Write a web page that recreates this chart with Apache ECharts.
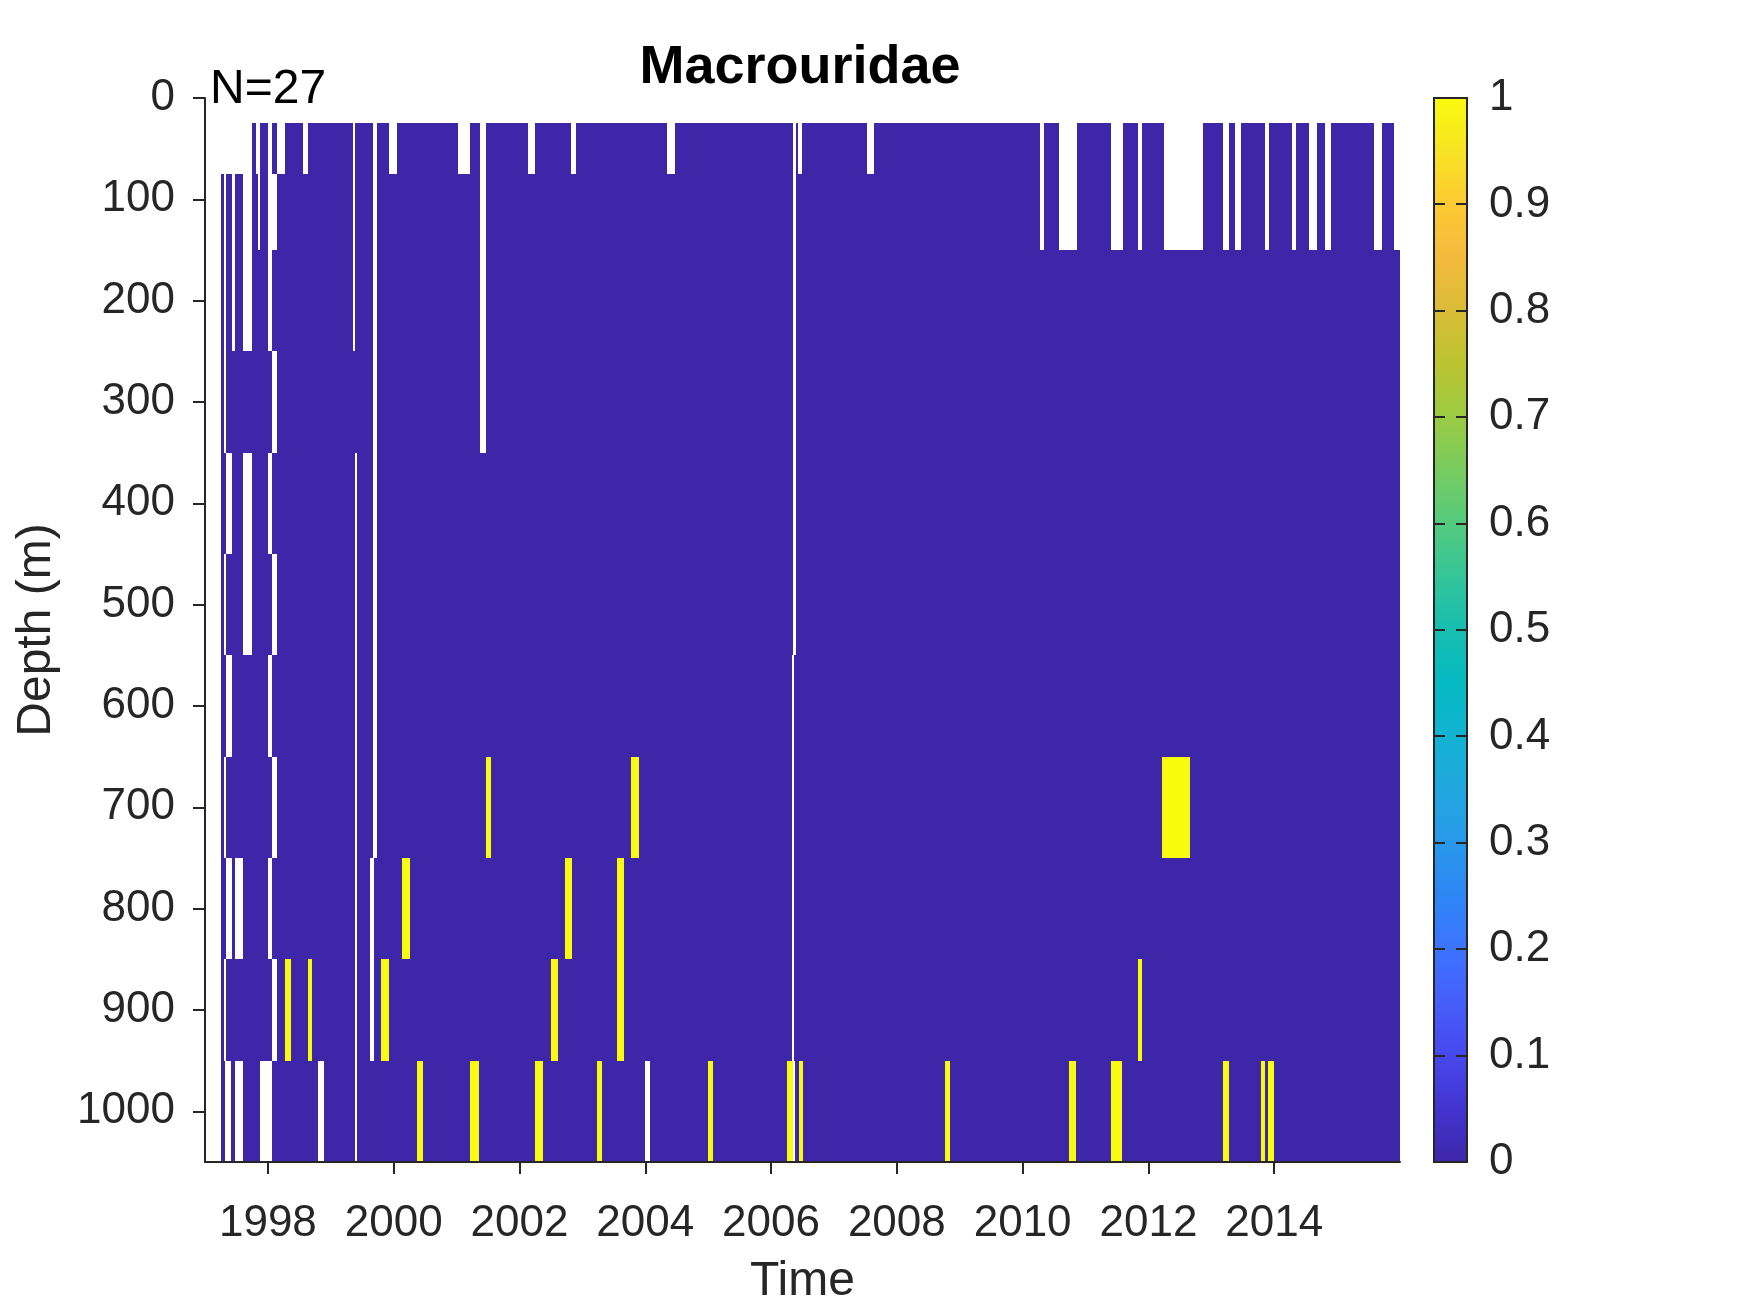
<!DOCTYPE html>
<html>
<head>
<meta charset="utf-8">
<script src="https://cdn.jsdelivr.net/npm/echarts@6/dist/echarts.min.js"></script>
<style>
  html, body { margin: 0; padding: 0; background: #ffffff; }
  #chart { width: 1750px; height: 1313px; }
</style>
</head>
<body>
<div id="chart"></div>
<script>
// ---------------- data ----------------
// depth bin edges (m) for the 11 depth rows
const depthEdges = [25, 75, 150, 250, 350, 450, 550, 650, 750, 850, 950, 1050];

// first / last sampled time for each depth row (decimal years)
const rowStart = [1997.745, 1997.25, 1997.25, 1997.25, 1997.25, 1997.25, 1997.25, 1997.25, 1997.25, 1997.25, 1997.25];
const rowEnd   = [2016.0, 2016.0, 2016.0, 2016.0, 2016.0, 2016.0, 2016.0, 2016.0, 2016.0, 2016.0, 2016.0];

// periods with no data (NaN, drawn white) for each depth row
const gapsRow0 = [[1997.815,1997.875],[1998.0,1998.065],[1998.145,1998.27],[1998.56,1998.63],[1999.36,1999.385],
  [1999.67,1999.74],[1999.93,2000.05],[2001.03,2001.21],[2001.37,2001.46],[2002.14,2002.25],[2002.82,2002.9],
  [2004.34,2004.48],[2006.35,2006.39],[2006.43,2006.49],[2007.52,2007.63],
  [2010.27,2010.34],[2010.58,2010.86],[2011.40,2011.59],[2011.84,2011.90],[2012.24,2012.87],[2013.19,2013.28],
  [2013.37,2013.47],[2013.86,2013.91],[2014.28,2014.35],[2014.56,2014.68],[2014.80,2014.90],[2015.58,2015.71],[2015.90,2016.0]];
const gapsRow1 = [[1997.30,1997.34],[1997.43,1997.47],[1997.60,1997.745],[1997.84,1997.875],[1998.0,1998.145],
  [1999.36,1999.385],[1999.67,1999.74],[2001.37,2001.46],[2006.35,2006.39],
  [2010.27,2010.34],[2010.58,2010.86],[2011.40,2011.59],[2011.84,2011.90],[2012.24,2012.87],[2013.19,2013.28],
  [2013.37,2013.47],[2013.86,2013.91],[2014.28,2014.35],[2014.56,2014.68],[2014.80,2014.90],[2015.58,2015.71],[2015.90,2016.0]];
const gapsRow2 = [[1997.30,1997.34],[1997.43,1997.47],[1997.60,1997.745],[1998.0,1998.065],[1999.36,1999.385],
  [1999.67,1999.74],[2001.37,2001.46],[2006.35,2006.39]];
const gapsRow3 = [[1997.30,1997.34],[1998.065,1998.145],[1999.67,1999.74],[2001.37,2001.46],[2006.35,2006.39]];
const gapsRow4 = [[1997.34,1997.43],[1997.60,1997.745],[1998.0,1998.065],[1999.385,1999.42],[1999.67,1999.74],[2006.35,2006.39]];
const gapsRow5 = [[1997.30,1997.34],[1997.60,1997.745],[1998.065,1998.145],[1999.385,1999.42],[1999.67,1999.74],[2006.35,2006.39]];
const gapsRow6 = [[1997.34,1997.43],[1998.0,1998.065],[1999.385,1999.42],[1999.67,1999.74],[2006.34,2006.37]];
const gapsRow7 = [[1997.30,1997.34],[1998.065,1998.145],[1999.385,1999.42],[1999.67,1999.74],[2006.34,2006.37]];
const gapsRow8 = [[1997.34,1997.43],[1997.47,1997.60],[1998.0,1998.065],[1999.385,1999.42],[1999.63,1999.68],[2006.34,2006.37]];
const gapsRow9 = [[1997.30,1997.34],[1998.065,1998.145],[1999.385,1999.42],[1999.63,1999.68],[2006.34,2006.37]];
const gapsRow10 = [[1997.32,1997.42],[1997.47,1997.60],[1997.875,1998.065],[1998.80,1998.89],[1999.385,1999.42],
  [2004.00,2004.08],[2006.35,2006.38]];
const gaps = [gapsRow0, gapsRow1, gapsRow2, gapsRow3, gapsRow4, gapsRow5, gapsRow6, gapsRow7, gapsRow8, gapsRow9, gapsRow10];

// periods with value 1 (presence); everything else sampled is 0
const hitsRow7 = [[2001.46,2001.54],[2003.78,2003.90],[2012.22,2012.66]];
const hitsRow8 = [[2000.14,2000.26],[2002.73,2002.84],[2003.55,2003.66]];
const hitsRow9 = [[1998.27,1998.37],[1998.64,1998.70],[1999.80,1999.93],[2002.50,2002.61],[2003.55,2003.66],[2011.83,2011.89]];
const hitsRow10 = [[2000.37,2000.47],[2001.21,2001.35],[2002.25,2002.37],[2003.24,2003.32],[2005.00,2005.08],
  [2006.25,2006.35],[2006.45,2006.50],[2008.76,2008.84],[2010.73,2010.85],[2011.40,2011.58],[2013.18,2013.28],
  [2013.79,2013.86],[2013.90,2014.00]];
const hits = [[], [], [], [], [], [], [], hitsRow7, hitsRow8, hitsRow9, hitsRow10];

// axis ticks
const xTicks = [1998, 2000, 2002, 2004, 2006, 2008, 2010, 2012, 2014];
const yTicks = [0, 100, 200, 300, 400, 500, 600, 700, 800, 900, 1000];
const cbTicks = [0, 0.1, 0.2, 0.3, 0.4, 0.5, 0.6, 0.7, 0.8, 0.9, 1];

// parula colormap stops
const parulaStops = [
  [0.00, '#3e26a8'], [0.05, '#4334d0'], [0.10, '#4748ed'], [0.15, '#465efb'], [0.20, '#3d73fe'],
  [0.25, '#2e86f5'], [0.30, '#2898e9'], [0.35, '#21a7df'], [0.40, '#12b3d2'], [0.45, '#05bac2'],
  [0.50, '#17bdb0'], [0.55, '#34c599'], [0.60, '#54ca7d'], [0.65, '#78cc60'], [0.70, '#9bcb43'],
  [0.75, '#bbc430'], [0.80, '#dabc37'], [0.85, '#f4ba3e'], [0.90, '#fdca32'], [0.95, '#f7e323'],
  [1.00, '#f9fb0e']
];

// ---------------- build cells ----------------
function buildCells() {
  const cells = [];
  for (let r = 0; r < depthEdges.length - 1; r++) {
    const pts = new Set([rowStart[r], rowEnd[r]]);
    gaps[r].forEach(g => { pts.add(g[0]); pts.add(g[1]); });
    hits[r].forEach(h => { pts.add(h[0]); pts.add(h[1]); });
    const arr = Array.from(pts).filter(p => p >= rowStart[r] && p <= rowEnd[r]).sort((a, b) => a - b);
    let cur = null;
    for (let i = 0; i < arr.length - 1; i++) {
      const a = arr[i], c = arr[i + 1], m = (a + c) / 2;
      if (gaps[r].some(g => m > g[0] && m < g[1])) { cur = null; continue; }
      const v = hits[r].some(h => m > h[0] && m < h[1]) ? 1 : 0;
      if (cur && cur[4] === v && cur[1] === a) { cur[1] = c; }
      else { cur = [a, c, depthEdges[r], depthEdges[r + 1], v]; cells.push(cur); }
    }
  }
  return cells;
}
const cells = buildCells();

// ---------------- chart ----------------
const FONT = '"Liberation Sans", Arial, Helvetica, sans-serif';
const AX = '#262626';
const chart = echarts.init(document.getElementById('chart'), null, { renderer: 'canvas' });

chart.setOption({
  animation: false,
  backgroundColor: '#ffffff',
  title: {
    text: 'Macrouridae',
    left: 795, top: 36, textAlign: 'center',
    textStyle: { fontSize: 54, fontWeight: 'bold', color: '#000000', fontFamily: FONT }
  },
  graphic: [{
    type: 'text', left: 210, top: 66,
    style: { text: 'N=27', fontSize: 48, fill: '#000000', fontFamily: FONT }
  }],
  visualMap: {
    show: false, type: 'continuous', min: 0, max: 1, dimension: 4, seriesIndex: 0,
    inRange: { color: parulaStops.map(s => s[1]) }
  },
  grid: [
    { left: 205, top: 98, width: 1195, height: 1064, containLabel: false },
    { left: 1434, top: 98, width: 33, height: 1064, show: false, containLabel: false }
  ],
  xAxis: [{
    gridIndex: 0, type: 'value', min: 1997, max: 2016, position: 'bottom',
    name: 'Time', nameLocation: 'middle', nameGap: 96,
    nameTextStyle: { fontSize: 48, color: AX, fontFamily: FONT },
    axisLine: { show: true, onZero: false, lineStyle: { color: AX, width: 2 } },
    axisTick: { show: true, length: 12, lineStyle: { color: AX, width: 2 }, customValues: xTicks },
    axisLabel: { fontSize: 44, color: AX, fontFamily: FONT, margin: 40, customValues: xTicks, formatter: v => String(v) },
    splitLine: { show: false },
    z: 10
  }, {
    gridIndex: 1, type: 'value', min: 0, max: 1, show: false,
    axisLine: { onZero: false }
  }],
  yAxis: [{
    gridIndex: 0, type: 'value', min: 0, max: 1050, inverse: true, position: 'left',
    name: 'Depth (m)', nameLocation: 'middle', nameGap: 144, nameRotate: 90,
    nameTextStyle: { fontSize: 48, color: AX, fontFamily: FONT },
    axisLine: { show: true, onZero: false, lineStyle: { color: AX, width: 2 } },
    axisTick: { show: true, length: 12, lineStyle: { color: AX, width: 2 }, customValues: yTicks },
    axisLabel: { fontSize: 44, color: AX, fontFamily: FONT, margin: 30, customValues: yTicks, formatter: v => String(v) },
    splitLine: { show: false },
    z: 10
  }, {
    gridIndex: 1, type: 'value', min: 0, max: 1, position: 'right',
    axisLine: { show: false, onZero: false },
    axisTick: { show: false, customValues: cbTicks },
    axisLabel: { fontSize: 44, color: AX, fontFamily: FONT, margin: 22, customValues: cbTicks,
      formatter: v => String(Math.round(v * 10) / 10) },
    splitLine: { show: false },
    z: 10
  }],
  series: [{
    type: 'custom',
    xAxisIndex: 0, yAxisIndex: 0,
    clip: true,
    encode: { x: [0, 1], y: [2, 3] },
    data: cells,
    renderItem: function (params, api) {
      const p0 = api.coord([api.value(0), api.value(2)]);
      const p1 = api.coord([api.value(1), api.value(3)]);
      const x0 = Math.round(p0[0]), x1 = Math.round(p1[0]);
      const y0 = Math.round(Math.min(p0[1], p1[1])), y1 = Math.round(Math.max(p0[1], p1[1]));
      return {
        type: 'rect',
        shape: { x: x0, y: y0, width: Math.max(1, x1 - x0), height: y1 - y0 },
        style: { fill: api.visual('color') }
      };
    },
    z: 1
  }, {
    // colorbar: gradient strip, frame and inward ticks on both edges
    type: 'custom',
    xAxisIndex: 1, yAxisIndex: 1,
    data: [[0, 1]],
    renderItem: function (params, api) {
      const a = api.coord([0, 0]);
      const b = api.coord([1, 1]);
      const L = a[0], R = b[0], T = b[1], B = a[1];
      const children = [{
        type: 'rect',
        shape: { x: L, y: T, width: R - L, height: B - T },
        style: {
          fill: {
            type: 'linear', x: 0, y: 1, x2: 0, y2: 0,
            colorStops: parulaStops.map(s => ({ offset: s[0], color: s[1] }))
          },
          stroke: AX, lineWidth: 2
        }
      }];
      cbTicks.forEach(t => {
        const y = Math.round(api.coord([0, t])[1]);
        if (t > 0 && t < 1) {
          children.push({ type: 'line', shape: { x1: L, y1: y, x2: L + 11, y2: y }, style: { stroke: AX, lineWidth: 2 } });
          children.push({ type: 'line', shape: { x1: R - 11, y1: y, x2: R, y2: y }, style: { stroke: AX, lineWidth: 2 } });
        }
      });
      return { type: 'group', children: children };
    },
    z: 1
  }]
});
</script>
</body>
</html>
